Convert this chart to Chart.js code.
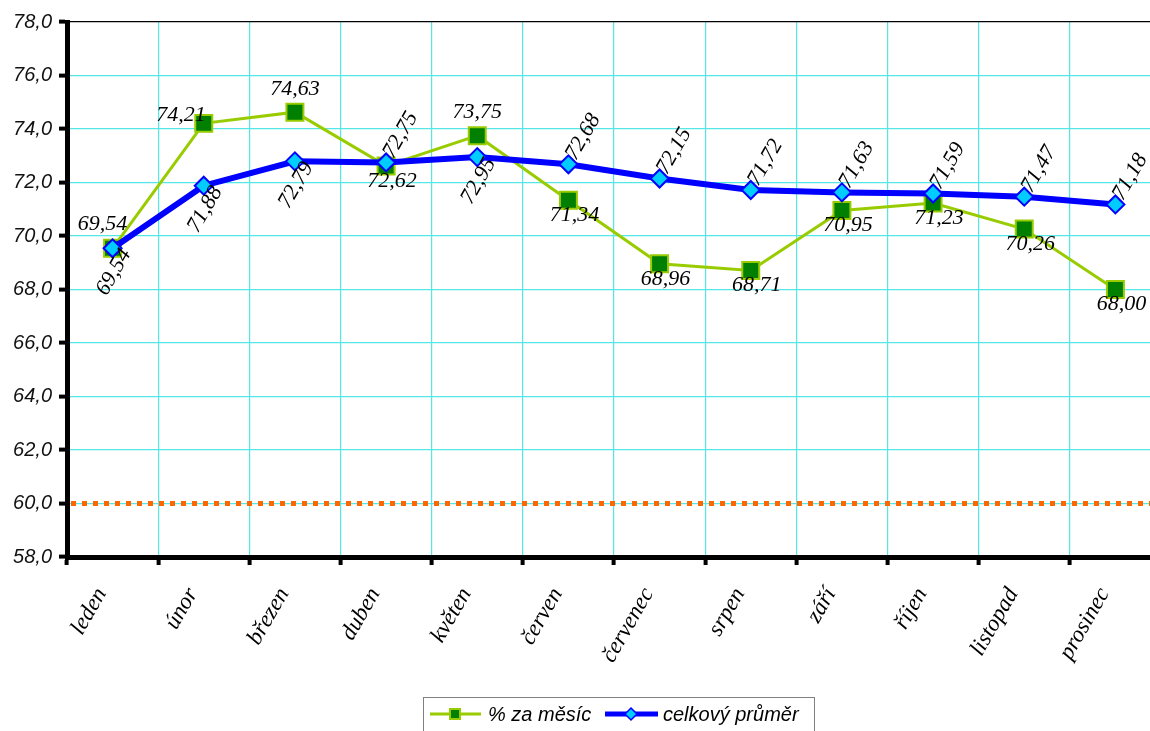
<!DOCTYPE html>
<html>
<head>
<meta charset="utf-8">
<script src="https://cdn.jsdelivr.net/npm/chart.js@4"></script>
<style>
html, body { margin: 0; padding: 0; background: #fff; overflow: hidden; }
#wrap { width: 1150px; height: 731px; overflow: hidden; }
canvas { display: block; }
</style>
</head>
<body>
<div id="wrap"><canvas id="chart" width="1175" height="731"></canvas></div>
<script>
// data
const months = ['leden', 'únor', 'březen', 'duben', 'květen', 'červen', 'červenec', 'srpen', 'září', 'říjen', 'listopad', 'prosinec'];
const monthly = [69.54, 74.21, 74.63, 72.62, 73.75, 71.34, 68.96, 68.71, 70.95, 71.23, 70.26, 68.00];
const overall = [69.54, 71.88, 72.79, 72.75, 72.95, 72.68, 72.15, 71.72, 71.63, 71.59, 71.47, 71.18];
const seriesNames = ['% za měsíc', 'celkový průměr'];
const limit = 60;
const yMin = 58, yMax = 78, yStep = 2;

// where the value labels sit
const monthlyPos = ['aboveLeft', 'left', 'above', 'below', 'above', 'below', 'below', 'below', 'below', 'below', 'below', 'below'];
const overallPos = ['below', 'below', 'below', 'above', 'below', 'above', 'above', 'above', 'above', 'above', 'above', 'above'];

const GREEN_LINE = '#99cc00';
const GREEN_FILL = '#007f00';
const BLUE_LINE = '#0000ff';
const BLUE_FILL = '#00ccff';
const GRID = '#55e6e6';

const fmt = v => v.toFixed(2).replace('.', ',');

// dotted limit line at 60
const limitLine = {
    id: 'limitLine',
    beforeDatasetsDraw(chart) {
        const { ctx, chartArea } = chart;
        const y = chart.scales.y.getPixelForValue(limit);
        ctx.save();
        ctx.strokeStyle = '#ff6600';
        ctx.lineWidth = 5;
        ctx.setLineDash([5, 6]);
        ctx.beginPath();
        ctx.moveTo(chartArea.left + 4, y);
        ctx.lineTo(chartArea.right, y);
        ctx.stroke();
        ctx.restore();
    }
};

// value labels
const valueLabels = {
    id: 'valueLabels',
    afterDatasetsDraw(chart) {
        const ctx = chart.ctx;
        ctx.save();
        ctx.font = 'italic 22px "Liberation Serif"';
        ctx.fillStyle = '#000';
        chart.getDatasetMeta(0).data.forEach((pt, i) => {
            let x = pt.x, y = pt.y;
            ctx.textAlign = 'center';
            ctx.textBaseline = 'middle';
            if (monthlyPos[i] === 'above') {
                y -= 23;
            } else if (monthlyPos[i] === 'aboveLeft') {
                x -= 10; y -= 24;
            } else if (monthlyPos[i] === 'below') {
                x += 6; y += 15;
            } else {
                ctx.textAlign = 'right';
                x += 2; y -= 8;
            }
            ctx.fillText(fmt(monthly[i]), x, y);
        });
        chart.getDatasetMeta(1).data.forEach((pt, i) => {
            ctx.save();
            ctx.translate(pt.x, pt.y);
            ctx.rotate(-Math.PI / 3);
            ctx.textAlign = 'center';
            ctx.textBaseline = 'middle';
            if (overallPos[i] === 'above') {
                ctx.fillText(fmt(overall[i]), 31, -1);
            } else {
                ctx.fillText(fmt(overall[i]), -20, 13);
            }
            ctx.restore();
        });
        ctx.restore();
    }
};

// legend box at the bottom
const legendBox = {
    id: 'legendBox',
    afterDraw(chart) {
        const ctx = chart.ctx;
        ctx.save();
        ctx.strokeStyle = '#808080';
        ctx.lineWidth = 1;
        ctx.strokeRect(423.5, 697.5, 391, 50);

        const y = 714;
        // green item
        ctx.strokeStyle = GREEN_LINE;
        ctx.lineWidth = 3;
        ctx.beginPath(); ctx.moveTo(430, y); ctx.lineTo(481, y); ctx.stroke();
        ctx.fillStyle = GREEN_FILL;
        ctx.fillRect(450, y - 5, 10, 10);
        ctx.lineWidth = 2;
        ctx.strokeRect(450, y - 5, 10, 10);
        // blue item
        ctx.strokeStyle = BLUE_LINE;
        ctx.lineWidth = 5;
        ctx.beginPath(); ctx.moveTo(605, y); ctx.lineTo(658, y); ctx.stroke();
        ctx.fillStyle = BLUE_FILL;
        ctx.lineWidth = 1.5;
        ctx.beginPath();
        ctx.moveTo(631, y - 6); ctx.lineTo(637, y); ctx.lineTo(631, y + 6); ctx.lineTo(625, y);
        ctx.closePath(); ctx.fill(); ctx.stroke();

        ctx.fillStyle = '#000';
        ctx.font = 'italic 20px "Liberation Sans"';
        ctx.textAlign = 'left';
        ctx.textBaseline = 'middle';
        ctx.fillText(seriesNames[0], 488, y + 1);
        ctx.fillText(seriesNames[1], 663, y + 1);
        ctx.restore();
    }
};

new Chart(document.getElementById('chart').getContext('2d'), {
    type: 'line',
    data: {
        labels: months,
        datasets: [{
            label: seriesNames[0],
            data: monthly,
            borderColor: GREEN_LINE,
            borderWidth: 3,
            pointStyle: 'rect',
            pointRadius: 12,
            pointBackgroundColor: GREEN_FILL,
            pointBorderColor: GREEN_LINE,
            pointBorderWidth: 2,
            tension: 0,
            order: 1
        }, {
            label: seriesNames[1],
            data: overall,
            borderColor: BLUE_LINE,
            borderWidth: 6,
            pointStyle: 'rectRot',
            pointRadius: 9,
            pointBackgroundColor: BLUE_FILL,
            pointBorderColor: BLUE_LINE,
            pointBorderWidth: 2,
            tension: 0,
            order: 0
        }]
    },
    options: {
        responsive: false,
        animation: false,
        events: [],
        layout: { padding: { top: 22, right: 13, left: 0, bottom: 0 } },
        plugins: {
            legend: { display: false },
            tooltip: { enabled: false }
        },
        scales: {
            x: {
                offset: true,
                grid: {
                    offset: true,
                    color: GRID,
                    lineWidth: 1.2,
                    tickColor: '#000',
                    tickLength: 8,
                    tickWidth: 4
                },
                border: { color: '#000', width: 5 },
                ticks: {
                    autoSkip: false,
                    minRotation: 60,
                    maxRotation: 60,
                    padding: 18,
                    labelOffset: -11,
                    color: '#000',
                    font: { family: 'Liberation Serif', style: 'italic', size: 23 }
                },
                afterFit: scale => { scale.height = 174; }
            },
            y: {
                min: yMin,
                max: yMax,
                ticks: {
                    stepSize: yStep,
                    padding: 7,
                    color: '#111',
                    font: { family: 'Liberation Sans', style: 'italic', size: 20 },
                    callback: v => v.toFixed(1).replace('.', ',')
                },
                grid: {
                    color: c => (c.tick && c.tick.value === yMax) ? '#000' : GRID,
                    lineWidth: 1.2,
                    tickColor: '#000',
                    tickLength: 8,
                    tickWidth: 4
                },
                border: { color: '#000', width: 5 },
                afterFit: scale => { scale.width = 67; }
            }
        }
    },
    plugins: [limitLine, valueLabels, legendBox]
});
</script>
</body>
</html>
